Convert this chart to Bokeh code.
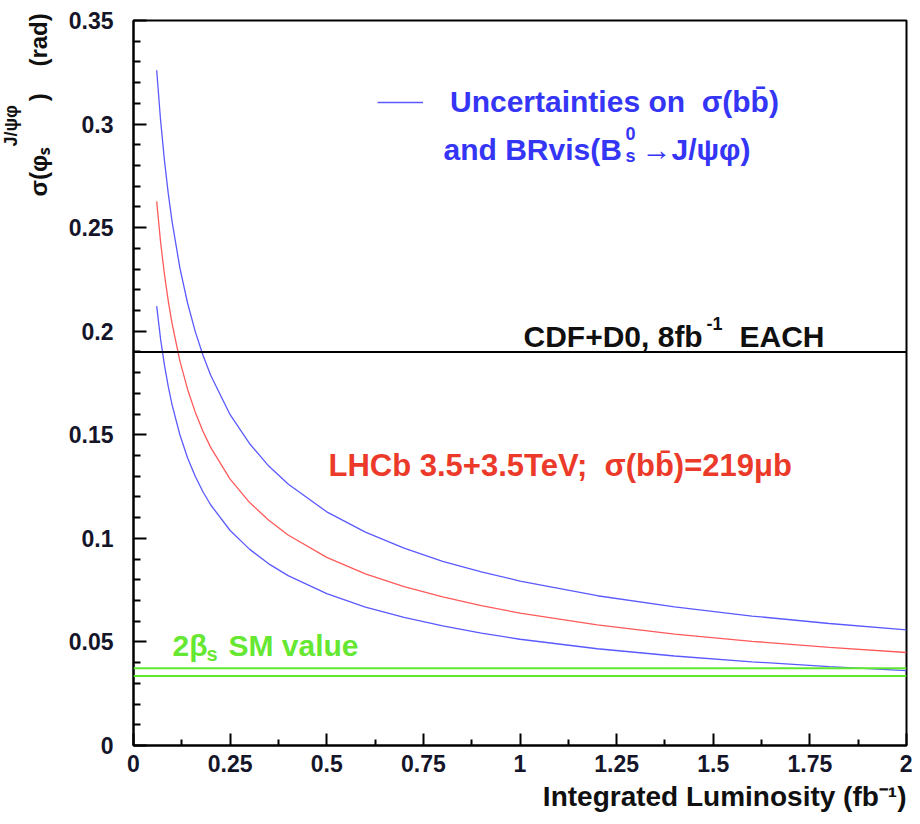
import math
from bokeh.plotting import figure
from bokeh.models import Label, Span, Range1d, FixedTicker, Legend, LegendItem, Title
from bokeh.embed import file_html
from bokeh.resources import INLINE

# ---------------- data ----------------
lumi = [0.06, 0.07, 0.08, 0.09, 0.10, 0.12, 0.14, 0.16, 0.18, 0.20, 0.25, 0.30,
        0.35, 0.40, 0.50, 0.60, 0.70, 0.80, 0.90, 1.00, 1.20, 1.40, 1.60, 1.80, 2.00]
sigma_upper = [0.3260, 0.3020, 0.2826, 0.2664, 0.2527, 0.2306, 0.2135, 0.1997, 0.1883,
               0.1786, 0.1597, 0.1458, 0.1349, 0.1262, 0.1128, 0.1030, 0.0953, 0.0889,
               0.0838, 0.0794, 0.0723, 0.0669, 0.0625, 0.0589, 0.0558]
sigma_central = [0.2627, 0.2432, 0.2275, 0.2145, 0.2035, 0.1857, 0.1719, 0.1608, 0.1516,
                 0.1438, 0.1286, 0.1174, 0.1087, 0.1016, 0.0908, 0.0829, 0.0767, 0.0717,
                 0.0675, 0.0639, 0.0582, 0.0538, 0.0503, 0.0474, 0.0449]
sigma_lower = [0.2121, 0.1963, 0.1837, 0.1732, 0.1643, 0.1500, 0.1388, 0.1299, 0.1224,
               0.1161, 0.1038, 0.0948, 0.0877, 0.0820, 0.0733, 0.0668, 0.0618, 0.0577,
               0.0543, 0.0513, 0.0467, 0.0432, 0.0404, 0.0381, 0.0361]
cdf_d0_value = 0.19
sm_band = [0.0335, 0.0373]

x_ticks = [0, 0.25, 0.5, 0.75, 1.0, 1.25, 1.5, 1.75, 2.0]
x_tick_labels = ["0", "0.25", "0.5", "0.75", "1", "1.25", "1.5", "1.75", "2"]
y_ticks = [0, 0.05, 0.1, 0.15, 0.2, 0.25, 0.3, 0.35]
y_tick_labels = ["0", "0.05", "0.1", "0.15", "0.2", "0.25", "0.3", "0.35"]

# ---------------- styling ----------------
FONT = "Liberation Sans"
BLUE_TXT = "#3535f5"
RED_TXT = "#ec3a2a"
GREEN_TXT = "#66e833"
BLUE_LINE = "#5a5aff"
RED_LINE = "#ff5a5a"
GREEN_LINE = "#5ee82e"
INK = "#101010"
NB = "\u00a0"

X0, X1, Y0, Y1 = 0.0, 2.0, 0.0, 0.35
W, H = 912, 816
# frame position in the picture (px)
FL, FR, FT, FB = 133, 906, 20, 746

p = figure(width=W, height=H, output_backend="svg", toolbar_location=None,
           x_range=Range1d(X0, X1), y_range=Range1d(Y0, Y1),
           min_border_left=FL, min_border_right=W - FR,
           min_border_top=FT, min_border_bottom=H - FB,
           background_fill_color="white", border_fill_color="white")
p.xgrid.visible = False
p.ygrid.visible = False
p.outline_line_color = "black"
p.outline_line_width = 2
p.outline_line_alpha = 1.0

x_minor = [round(0.125 + 0.25 * i, 3) for i in range(8)]
y_minor = [round(0.01 * i, 2) for i in range(36) if i % 5 != 0]
p.xaxis.ticker = FixedTicker(ticks=x_ticks, minor_ticks=x_minor)
p.yaxis.ticker = FixedTicker(ticks=y_ticks, minor_ticks=y_minor)
p.xaxis.major_label_overrides = dict(zip(x_ticks, x_tick_labels))
p.yaxis.major_label_overrides = dict(zip(y_ticks, y_tick_labels))

for ax in (p.xaxis[0], p.yaxis[0]):
    ax.axis_line_color = "black"
    ax.axis_line_width = 2
    ax.major_tick_line_color = "black"
    ax.major_tick_line_width = 2
    ax.minor_tick_line_color = "black"
    ax.minor_tick_line_width = 2
    ax.major_tick_out = 0
    ax.minor_tick_out = 0
    ax.major_label_text_font = FONT
    ax.major_label_text_font_style = "bold"
    ax.major_label_text_color = "#15152a"

p.xaxis.major_tick_in = 12
p.xaxis.minor_tick_in = 6
p.xaxis.major_label_text_font_size = "23px"
p.xaxis.major_label_standoff = 9
p.yaxis.major_tick_in = 13
p.yaxis.minor_tick_in = 7
p.yaxis.major_label_text_font_size = "23px"
p.yaxis.major_label_standoff = 20

# ---------------- data lines ----------------
r_up = p.line(lumi, sigma_upper, line_color=BLUE_LINE, line_width=1.3)
r_c = p.line(lumi, sigma_central, line_color=RED_LINE, line_width=1.3)
r_lo = p.line(lumi, sigma_lower, line_color=BLUE_LINE, line_width=1.3)

p.add_layout(Span(location=cdf_d0_value, dimension="width", line_color="black", line_width=2))
for v in sm_band:
    p.add_layout(Span(location=v, dimension="width", line_color=GREEN_LINE, line_width=2))

# ---------------- legend ----------------
legend = Legend(items=[LegendItem(label="Uncertainties on" + NB + NB + "σ(bb̄)", renderers=[r_up])],
                location=(377 - FL, (FB - 103) - 17),
                border_line_alpha=0, background_fill_alpha=0,
                padding=0, margin=0, spacing=0,
                glyph_width=46, glyph_height=20, label_standoff=27,
                label_text_font=FONT, label_text_font_style="bold",
                label_text_font_size="30px", label_text_color=BLUE_TXT)
p.add_layout(legend)

# ---------------- axis titles ----------------
x_title = Title(text="Integrated Luminosity (fb⁻¹)", align="right", offset=0, standoff=9,
                text_font=FONT, text_font_style="bold", text_font_size="28px",
                text_color=INK)
p.add_layout(x_title, "below")

y_title = Title(text="σ(φₛ" + NB * 7 + ")" + NB * 4 + "(rad)", align="left",
                offset=FB - 197, standoff=28,
                text_font=FONT, text_font_style="bold", text_font_size="24px",
                text_color=INK)
p.add_layout(y_title, "left")
y_title_sup = Title(text="J/ψφ", align="left", offset=FB - 147, standoff=-24,
                    text_font=FONT, text_font_style="bold", text_font_size="18px",
                    text_color=INK)
p.add_layout(y_title_sup, "left")


# ---------------- text annotations ----------------
def dx(px):
    return X0 + (px - FL) / (FR - FL) * (X1 - X0)


def dy(py):
    return Y0 + (FB - py) / (FB - FT) * (Y1 - Y0)


BASE_SHIFT = 9  # rendered baseline sits lower than requested


def lab(text, x, y, size, color, align="left", style="bold"):
    p.add_layout(Label(x=dx(x), y=dy(y - BASE_SHIFT), text=text, text_font=FONT,
                       text_font_style=style, text_font_size=f"{size}px",
                       text_color=color, text_align=align,
                       text_baseline="alphabetic"))


# legend second line
lab("and BRvis(B", 443, 158, 30, BLUE_TXT)
lab("0", 625, 142, 18, BLUE_TXT)
lab("s", 625, 165, 18, BLUE_TXT)
lab("→J/ψφ)", 641, 158, 30, BLUE_TXT)

# CDF + D0 line label
lab("CDF+D0, 8fb", 523, 345, 30, INK)
lab("-1", 706, 332, 18, INK)
lab("EACH", 824, 345, 30, INK, align="right")

# LHCb label
lab("LHCb 3.5+3.5TeV;" + NB + NB + "σ(bb̄)=219μb", 328, 475, 31, RED_TXT)

# SM value label
lab("2β", 172, 655, 30, GREEN_TXT)
lab("s", 206, 663, 20, GREEN_TXT)
lab("SM value", 228, 655, 30, GREEN_TXT)

open("out.html", "w").write(file_html(p, INLINE))
